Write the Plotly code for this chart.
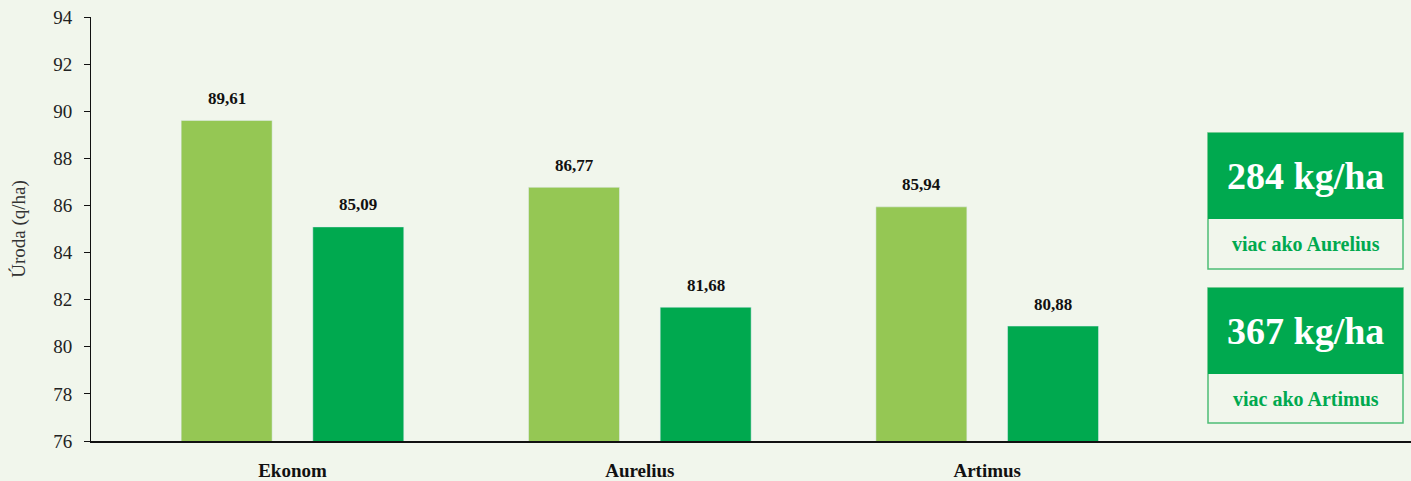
import plotly.graph_objects as go

categories = ["Ekonom", "Aurelius", "Artimus"]
series_a = [89.61, 86.77, 85.94]
series_b = [85.09, 81.68, 80.88]
y_ticks = [76, 78, 80, 82, 84, 86, 88, 90, 92, 94]
box_values = ["284 kg/ha", "367 kg/ha"]
box_labels = ["viac ako Aurelius", "viac ako Artimus"]

BG = "#F1F6EC"
LIGHT = "#95C754"
DARK = "#00A94F"
FONT = "Liberation Serif"

def fmt(v):
    return f"{v:.2f}".replace(".", ",")

fig = go.Figure()
fig.add_trace(go.Bar(x=categories, y=series_a, marker_color=LIGHT, hoverinfo="skip"))
fig.add_trace(go.Bar(x=categories, y=series_b, marker_color=DARK, hoverinfo="skip"))

annotations = []
slot_px = 131.5
for i, c in enumerate(categories):
    for v, sh in ((series_a[i], -slot_px / 2), (series_b[i], slot_px / 2)):
        annotations.append(dict(x=c, y=v, xref="x", yref="y", text=f"<b>{fmt(v)}</b>",
                                showarrow=False, xshift=sh, yshift=22,
                                xanchor="center", yanchor="middle",
                                font=dict(family=FONT, size=17, color="#111")))

# side boxes (paper coords)
L, R, T, B = 91, 1411, 17, 441
W, H = R - L, B - T
def px(x):
    return (x - L) / W
def py(y):
    return (B - y) / H

shapes = []
boxes = [(133, 219, 269), (288, 374, 423)]
for (top, mid, bot), val, lab in zip(boxes, box_values, box_labels):
    shapes.append(dict(type="rect", xref="paper", yref="paper", x0=px(1208), x1=px(1403),
                       y0=py(bot), y1=py(top), fillcolor=BG, line=dict(color="#4DBD75", width=1.5)))
    shapes.append(dict(type="rect", xref="paper", yref="paper", x0=px(1208), x1=px(1403),
                       y0=py(mid), y1=py(top), fillcolor=DARK, line=dict(width=0)))
    annotations.append(dict(x=px(1305.5), y=py((top + mid) / 2), xref="paper", yref="paper",
                            xanchor="center", yanchor="middle",
                            text=f"<b>{val}</b>", showarrow=False,
                            font=dict(family=FONT, size=38, color="white")))
    annotations.append(dict(x=px(1305.5), y=py((mid + bot) / 2), xref="paper", yref="paper",
                            xanchor="center", yanchor="middle",
                            text=f"<b>{lab}</b>", showarrow=False,
                            font=dict(family=FONT, size=20, color=DARK)))

fig.update_layout(
    width=1411, height=481,
    margin=dict(l=L, r=1411 - R, t=T, b=481 - B, pad=0),
    paper_bgcolor=BG, plot_bgcolor=BG,
    barmode="group", bargap=0.242, bargroupgap=0.309,
    showlegend=False,
    shapes=shapes, annotations=annotations,
    xaxis=dict(range=[-0.58, 3.22], showline=True, linecolor="#111", linewidth=1.5,
               showgrid=False, zeroline=False, ticks="", ticklabelstandoff=11,
               automargin=False,
               tickfont=dict(family=FONT, size=19, color="#111"),
               tickvals=categories, ticktext=[f"<b>{c}</b>" for c in categories]),
    yaxis=dict(range=[76, 94], tickvals=y_ticks, showline=True, linecolor="#111", linewidth=1,
               showgrid=False, zeroline=False, ticks="outside", ticklen=6, tickcolor="#111",
               ticklabelstandoff=8, automargin=False,
               tickfont=dict(family=FONT, size=19, color="#222"),
               title=dict(text="Úroda (q/ha)", font=dict(family=FONT, size=19, color="#333"),
                          standoff=22)),
)

fig.write_html(
    "out.html",
    config={"displayModeBar": False},
    post_script="document.body.style.margin='0';document.body.style.overflow='hidden';"
                "document.body.style.background='#F1F6EC';",
)
